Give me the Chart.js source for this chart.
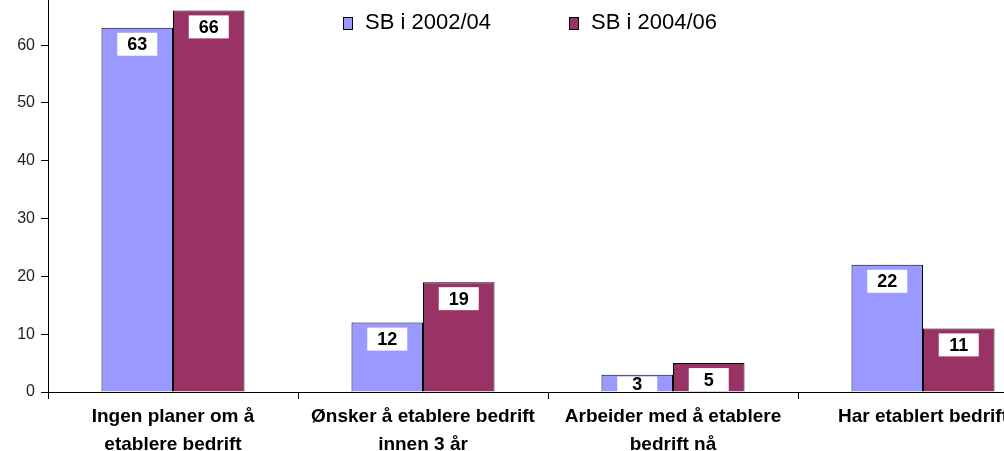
<!DOCTYPE html>
<html>
<head>
<meta charset="utf-8">
<script src="https://cdn.jsdelivr.net/npm/chart.js@4.4.0/dist/chart.umd.min.js"></script>
<style>
  html, body { margin: 0; padding: 0; background: #fff; overflow: hidden; }
  #wrap { position: relative; width: 1050px; height: 451px; }
</style>
</head>
<body>
<div id="wrap"><canvas id="chart"></canvas></div>
<script>
const categories = [
    ["Ingen planer om å", "etablere bedrift"],
    ["Ønsker å etablere bedrift", "innen 3 år"],
    ["Arbeider med å etablere", "bedrift nå"],
    ["Har etablert bedrift"]
];
const seriesNames = ["SB i 2002/04", "SB i 2004/06"];
const sb0204 = [63, 12, 3, 22];
const sb0406 = [66, 19, 5, 11];
const yTicks = [0, 10, 20, 30, 40, 50, 60];

const colors = ["#9999ff", "#993366"];
const fontFamily = "'Liberation Sans', Arial, sans-serif";

// white boxes with the value near the top of each bar
const valueBoxes = {
    id: "valueBoxes",
    afterDatasetsDraw(chart) {
        const ctx = chart.ctx;
        const area = chart.chartArea;
        ctx.save();
        ctx.beginPath();
        ctx.rect(area.left, area.top, area.right - area.left, area.bottom - area.top);
        ctx.clip();
        chart.data.datasets.forEach((ds, i) => {
            chart.getDatasetMeta(i).data.forEach((bar, j) => {
                const w = 40, h = 23;
                const top = Math.min(bar.y + 5, bar.base - 15);
                ctx.fillStyle = "#fff";
                ctx.fillRect(bar.x - w / 2, top, w, h);
                ctx.fillStyle = "#000";
                ctx.font = "bold 18px " + fontFamily;
                ctx.textAlign = "center";
                ctx.textBaseline = "middle";
                ctx.fillText(ds.data[j], bar.x, Math.min(top + h / 2 + 1, bar.base - 6));
            });
        });
        ctx.restore();
    }
};

// legend drawn over the plot, like the original
const topLegend = {
    id: "topLegend",
    afterDraw(chart) {
        const ctx = chart.ctx;
        ctx.save();
        ctx.font = "22px " + fontFamily;
        ctx.textBaseline = "middle";
        ctx.textAlign = "left";
        let x = 343;
        const y = 23;
        chart.data.datasets.forEach((ds, i) => {
            ctx.fillStyle = ds.backgroundColor;
            ctx.fillRect(x, y - 6, 10, 13);
            ctx.strokeStyle = "#000";
            ctx.lineWidth = 1;
            ctx.strokeRect(x + 0.5, y - 5.5, 9, 12);
            ctx.fillStyle = "#000";
            ctx.fillText(ds.label, x + 22, y);
            x = 569;
        });
        ctx.restore();
    }
};

const ctx = document.querySelector("#chart");

const chartData = {
    labels: categories,
    datasets: [
        {
            label: seriesNames[0],
            data: sb0204,
            backgroundColor: colors[0],
            borderColor: "#000",
            borderWidth: 1,
            borderSkipped: "bottom",
        },
        {
            label: seriesNames[1],
            data: sb0406,
            backgroundColor: colors[1],
            borderColor: "#000",
            borderWidth: 1,
            borderSkipped: "bottom",
        },
    ],
};

const config = {
    type: "bar",
    data: chartData,
    plugins: [valueBoxes, topLegend],
    options: {
        responsive: true,
        maintainAspectRatio: false,
        animation: false,
        layout: { padding: { top: 0, right: 2, left: 0, bottom: 0 } },
        datasets: {
            bar: { categoryPercentage: 0.572, barPercentage: 1 }
        },
        plugins: {
            legend: { display: false },
            tooltip: { enabled: false },
            title: { display: false },
        },
        scales: {
            x: {
                grid: {
                    display: true,
                    drawOnChartArea: false,
                    drawTicks: true,
                    tickLength: 7,
                    color: "#000",
                    offset: true,
                },
                border: { color: "#000", width: 1 },
                ticks: {
                    color: "#000",
                    font: { family: fontFamily, size: 19, weight: "bold", lineHeight: 1.45 },
                    padding: 4,
                    maxRotation: 0,
                    autoSkip: false,
                },
                afterFit(scale) { scale.height = 59; },
            },
            y: {
                min: 0,
                max: 67.8,
                grid: {
                    drawOnChartArea: false,
                    drawTicks: true,
                    tickLength: 7,
                    color: "#000",
                },
                border: { color: "#000", width: 1 },
                ticks: {
                    color: "#222",
                    font: { family: fontFamily, size: 16 },
                    padding: 6,
                },
                afterBuildTicks(scale) { scale.ticks = yTicks.map(v => ({ value: v })); },
                afterFit(scale) {
                    scale.width = 48;
                    scale.paddingTop = 0;
                    scale.paddingBottom = 0;
                },
            },
        },
    },
};

const myChart = new Chart(ctx, config);
</script>
</body>
</html>
